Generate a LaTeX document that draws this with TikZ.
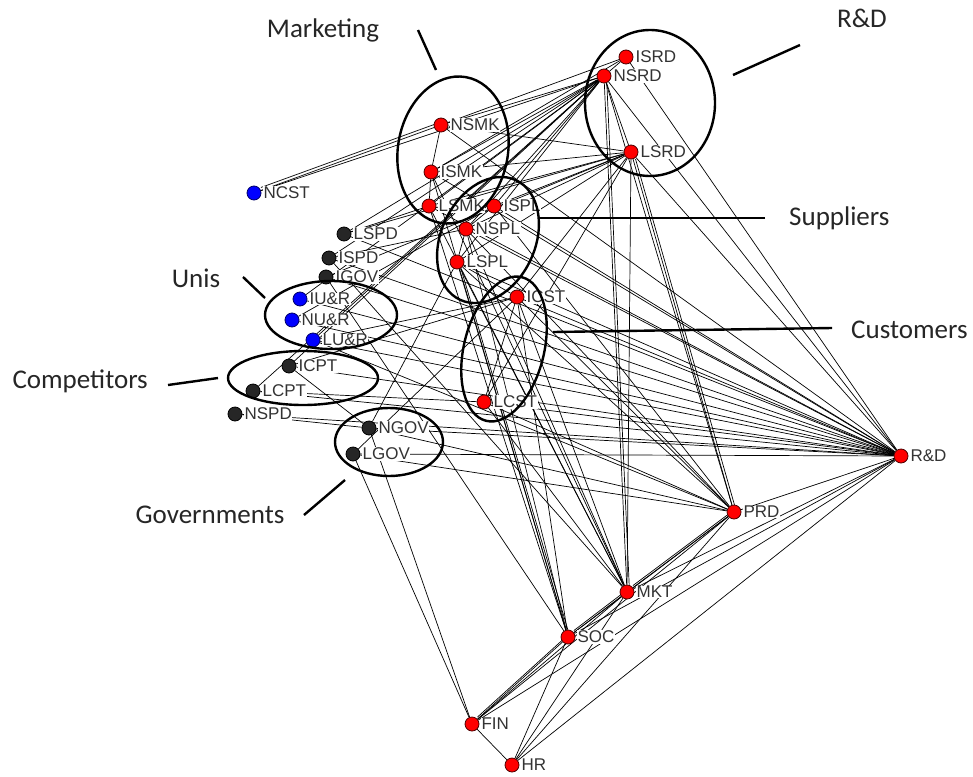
\documentclass[tikz,border=0pt]{standalone}
\usepackage{fontspec}
\setmainfont{Carlito}
\newfontfamily\nodefont{Liberation Sans}
\pgfdeclarelayer{bglayer}
\pgfdeclarelayer{edgelayer}
\pgfsetlayers{bglayer,edgelayer,main}
\begin{document}
\begin{tikzpicture}[x=1pt,y=-1pt,
 nd/.style={circle,line width=0.8pt,minimum size=14pt,inner sep=0pt},
 rn/.style={nd,fill=red,draw=black!70!red},
 bn/.style={nd,fill=blue,draw=blue!40!black},
 kn/.style={nd,fill=black!85,draw=black},
 lab/.style={font=\nodefont\fontsize{17}{17}\selectfont,text=black!80,inner sep=0.5pt,fill=white,label distance=1.5pt},
 edge/.style={line width=0.7pt,black},
 grp/.style={line width=2.4pt,black},
 ptr/.style={line width=2.4pt,black},
 cat/.style={font=\fontsize{27}{27}\selectfont,text=black!85,inner sep=0pt}]
\begin{pgfonlayer}{bglayer}
\fill[white] (0,0) rectangle (973,776);
\end{pgfonlayer}
\useasboundingbox (0,0) rectangle (973,776);

% nodes
\node[rn,label={[lab]right:ISRD}] (isrd) at (626,57) {};
\node[rn,label={[lab]right:NSRD}] (nsrd) at (604,76) {};
\node[rn,label={[lab]right:LSRD}] (lsrd) at (631,152) {};
\node[rn,label={[lab]right:NSMK}] (nsmk) at (441,125) {};
\node[rn,label={[lab]right:ISMK}] (ismk) at (431,172) {};
\node[rn,label={[lab]right:LSMK}] (lsmk) at (429,206) {};
\node[rn,label={[lab]right:ISPL}] (ispl) at (494,206) {};
\node[rn,label={[lab]right:NSPL}] (nspl) at (466,229) {};
\node[rn,label={[lab]right:LSPL}] (lspl) at (457,262) {};
\node[rn,label={[lab]right:ICST}] (icst) at (517,297) {};
\node[rn,label={[lab]right:LCST}] (lcst) at (484,402) {};
\node[bn,label={[lab]right:NCST}] (ncst) at (254,193) {};
\node[kn,label={[lab]right:LSPD}] (lspd) at (344,234) {};
\node[kn,label={[lab]right:ISPD}] (ispd) at (329,258) {};
\node[kn,label={[lab]right:IGOV}] (igov) at (326,277) {};
\node[bn,label={[lab]right:IU\&R}] (iur) at (300,299) {};
\node[bn,label={[lab]right:NU\&R}] (nur) at (292,320) {};
\node[bn,label={[lab]right:LU\&R}] (lur) at (313,340) {};
\node[kn,label={[lab]right:ICPT}] (icpt) at (289,366) {};
\node[kn,label={[lab]right:LCPT}] (lcpt) at (253,391) {};
\node[kn,label={[lab]right:NSPD}] (nspd) at (235,414) {};
\node[kn,label={[lab]right:NGOV}] (ngov) at (369,428) {};
\node[kn,label={[lab]right:LGOV}] (lgov) at (353,454) {};
\node[rn,label={[lab]right:R\&D}] (rd) at (901,456) {};
\node[rn,label={[lab]right:PRD}] (prd) at (734,512) {};
\node[rn,label={[lab]right:MKT}] (mkt) at (627,592) {};
\node[rn,label={[lab]right:SOC}] (soc) at (568,637) {};
\node[rn,label={[lab]right:FIN}] (fin) at (472,724) {};
\node[rn,label={[lab]right:HR}] (hr) at (512,765) {};

% edges
\begin{pgfonlayer}{edgelayer}
\foreach \s in {nsrd,lsrd,isrd,nsmk,ismk,lsmk,ispl,nspl,lspl,icst,lcst,lspd,ispd,igov,iur,nur,lur,icpt,lcpt,nspd,ngov,lgov,prd,mkt,soc,fin,hr}
  \draw[edge] (\s) -- (rd);
\foreach \s in {nsrd,lsrd,icst,lcst,lspl,nspl,ispl,lgov,ngov,lur,mkt,soc,fin,hr}
  \draw[edge] (\s) -- (prd);
\foreach \s in {nsrd,lsrd,ismk,lsmk,nspl,icst,lcst,lspl,ispd,soc,fin,hr}
  \draw[edge] (\s) -- (mkt);
\foreach \s in {lsmk,ismk,nspl,lspl,icst,igov,fin,hr}
  \draw[edge] (\s) -- (soc);
\foreach \s in {lgov,ngov,hr}
  \draw[edge] (\s) -- (fin);
\foreach \s in {nsmk,ismk,lsmk,ispl,nspl,lspl,lspd,ispd,ncst,lur,iur,icpt,lcpt,lsrd}
  \draw[edge] (\s) -- (nsrd);
\foreach \s in {nsmk,ismk,lsmk,ispl,nspl,lspl,lspd,icst,lcst,igov}
  \draw[edge] (\s) -- (lsrd);
\foreach \s in {nsmk,ismk,nsrd}
  \draw[edge] (\s) -- (isrd);
\draw[edge,transform canvas={xshift=2.5pt}] (lsrd) -- (prd);
\draw[edge,transform canvas={xshift=2.5pt}] (nsrd) -- (mkt);
\draw[edge,transform canvas={xshift=2pt}] (lspl) -- (soc);
\draw[edge,transform canvas={yshift=2pt}] (fin) -- (soc);
\draw[edge,transform canvas={yshift=2pt}] (soc) -- (mkt);
\draw[edge,transform canvas={yshift=2pt}] (mkt) -- (prd);
\draw[edge,transform canvas={yshift=3pt}] (ncst) -- (nsmk);
\draw[edge] (ncst) -- (nsmk);
\draw[edge] (nsmk) -- (ismk);
\draw[edge] (ismk) -- (lsmk);
\draw[edge] (ispl) -- (nspl);
\draw[edge] (nspl) -- (lspl);
\draw[edge] (lspl) -- (icst);
\draw[edge] (icst) -- (lcst);
\draw[edge] (icpt) -- (ngov);
\draw[edge] (nspd) -- (ngov);
\draw[edge] (lcpt) -- (lcst);
\draw[edge] (icpt) -- (icst);
\draw[edge] (lgov) -- (icst);
\draw[edge] (ngov) -- (lspl);
\draw[edge] (nur) -- (ispl);
\draw[edge] (lspd) -- (lsmk);
\draw[edge] (ispd) -- (nspl);
\draw[edge] (lur) -- (icst);
\end{pgfonlayer}

% groups
\draw[grp,rotate around={-10:(453,150)}] (453,150) ellipse [x radius=55pt, y radius=74pt];
\draw[grp] (650,103) ellipse [x radius=65pt, y radius=73pt];
\draw[grp,rotate around={65:(488,240)}] (488,240) ellipse [x radius=66pt, y radius=47pt];
\draw[grp,rotate around={76:(504,349)}] (504,349) ellipse [x radius=74pt, y radius=40pt];
\draw[grp] (331,315) ellipse [x radius=66pt, y radius=34pt];
\draw[grp] (303,378) ellipse [x radius=75pt, y radius=27pt];
\draw[grp] (389,442) ellipse [x radius=54pt, y radius=34pt];

% category labels and pointers
\node[cat] (lmk) at (323,30) {Marketing};
\node[cat] (lrd) at (862,18) {R\&D};
\node[cat,anchor=west] (lsp) at (789,218) {Suppliers};
\node[cat,anchor=west] (lcu) at (851,330) {Customers};
\node[cat] (lun) at (196,278) {Unis};
\node[cat,anchor=east] (lco) at (148,381) {Competitors};
\node[cat] (lgo) at (210,515) {Governments};

\coordinate (pmk1) at (418,30); \coordinate (pmk2) at (436,70);
\coordinate (prd1) at (800,45); \coordinate (prd2) at (733,75);
\coordinate (psp1) at (765,218); \coordinate (psp2) at (540,218);
\coordinate (pcu1) at (832,328); \coordinate (pcu2) at (553,332);
\coordinate (pun1) at (243,277); \coordinate (pun2) at (265,298);
\coordinate (pco1) at (168,385); \coordinate (pco2) at (218,378);
\coordinate (pgo1) at (304,515); \coordinate (pgo2) at (345,480);
\draw[ptr] (pmk1) -- (pmk2);
\draw[ptr] (prd1) -- (prd2);
\draw[ptr] (psp1) -- (psp2);
\draw[ptr] (pcu1) -- (pcu2);
\draw[ptr] (pun1) -- (pun2);
\draw[ptr] (pco1) -- (pco2);
\draw[ptr] (pgo1) -- (pgo2);
\end{tikzpicture}
\end{document}
